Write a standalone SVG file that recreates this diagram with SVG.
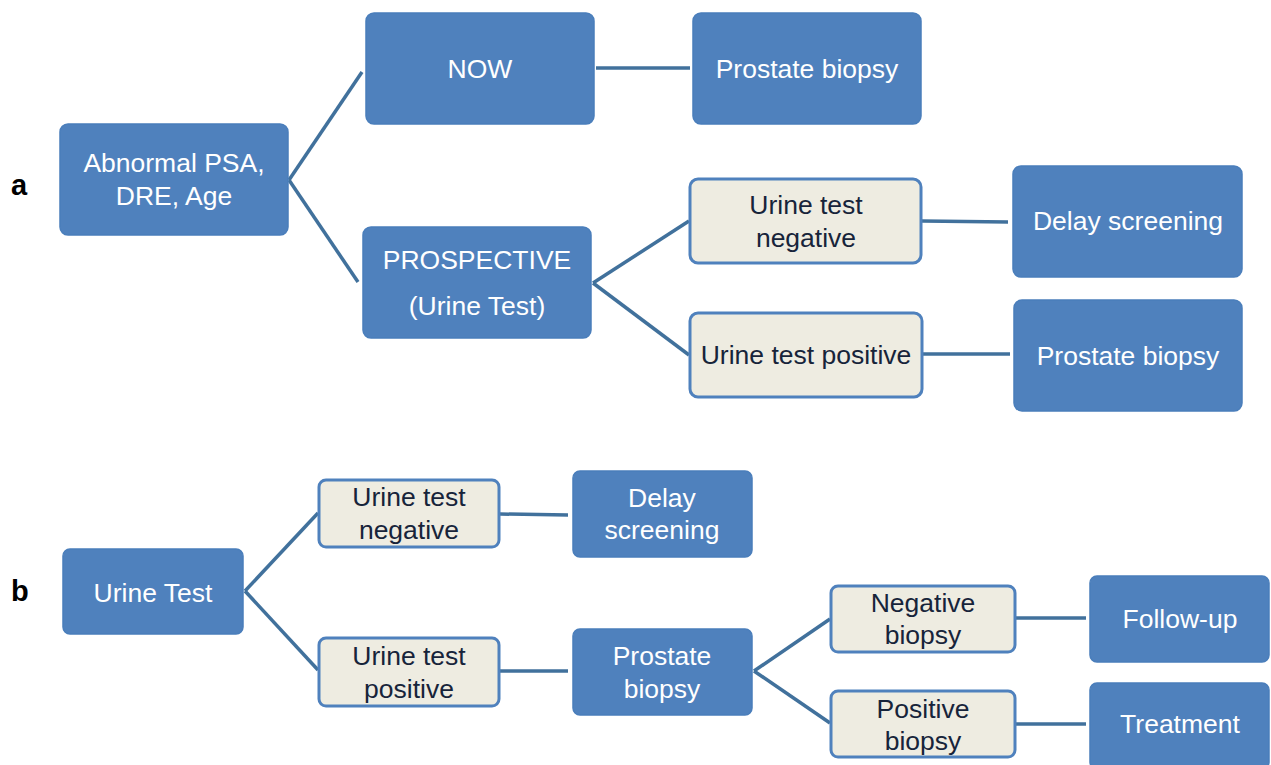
<svg xmlns="http://www.w3.org/2000/svg" width="1271" height="765" viewBox="0 0 1271 765">
<style>
.b{fill:#4F81BD;stroke:#4A7EBB;stroke-width:1.5}
.l{fill:#EEECE1;stroke:#4F81BD;stroke-width:3}
.tw{fill:#FFFFFF;font-family:"Liberation Sans",Arial,sans-serif;font-size:26.5px;text-anchor:middle}
.td{fill:#17243A;font-family:"Liberation Sans",Arial,sans-serif;font-size:26.5px;text-anchor:middle}
.lab{fill:#000;font-family:"Liberation Sans",Arial,sans-serif;font-size:29px;font-weight:bold}
#connectors line{stroke:#41719C;stroke-width:3.5;fill:none}
</style>
<rect width="1271" height="765" fill="#FFFFFF"/>
<text class="lab" x="11" y="195">a</text>
<text class="lab" x="11" y="601">b</text>
<g id="connectors">
<line x1="289" y1="180" x2="362" y2="72"/>
<line x1="289" y1="180" x2="358" y2="282"/>
<line x1="596" y1="68" x2="690" y2="68"/>
<line x1="593" y1="283" x2="689" y2="221"/>
<line x1="593" y1="283" x2="689" y2="355"/>
<line x1="922" y1="221" x2="1008" y2="222"/>
<line x1="923" y1="354" x2="1010" y2="354"/>
<line x1="245" y1="591" x2="318" y2="513"/>
<line x1="245" y1="591" x2="318" y2="670"/>
<line x1="500" y1="514" x2="568" y2="515"/>
<line x1="500" y1="671" x2="568" y2="671"/>
<line x1="754" y1="671" x2="830" y2="619"/>
<line x1="754" y1="671" x2="830" y2="723"/>
<line x1="1016" y1="618" x2="1086" y2="618"/>
<line x1="1016" y1="724" x2="1086" y2="724"/>
</g>
<g id="abnormal"><rect class="b" x="60" y="124" width="228" height="111" rx="8"/><text class="tw" x="174" y="172">Abnormal PSA,</text><text class="tw" x="174" y="205">DRE, Age</text></g>
<g id="now"><rect class="b" x="366" y="13" width="228" height="111" rx="8"/><text class="tw" x="480" y="78">NOW</text></g>
<g id="biopsy-a1"><rect class="b" x="693" y="13" width="228" height="111" rx="8"/><text class="tw" x="807" y="78">Prostate biopsy</text></g>
<g id="prospective"><rect class="b" x="363" y="227" width="228" height="111" rx="8"/><text class="tw" x="477" y="269">PROSPECTIVE</text><text class="tw" x="477" y="315">(Urine Test)</text></g>
<g id="neg-a"><rect class="l" x="690" y="179" width="231" height="84" rx="8"/><text class="td" x="806" y="214">Urine test</text><text class="td" x="806" y="247">negative</text></g>
<g id="pos-a"><rect class="l" x="690" y="313" width="232" height="84" rx="8"/><text class="td" x="806" y="364">Urine test positive</text></g>
<g id="delay-a"><rect class="b" x="1013" y="166" width="229" height="111" rx="8"/><text class="tw" x="1128" y="230">Delay screening</text></g>
<g id="biopsy-a2"><rect class="b" x="1014" y="300" width="228" height="111" rx="8"/><text class="tw" x="1128" y="365">Prostate biopsy</text></g>
<g id="urine-b"><rect class="b" x="63" y="549" width="180" height="85" rx="7"/><text class="tw" x="153" y="602">Urine Test</text></g>
<g id="neg-b"><rect class="l" x="319" y="480" width="180" height="67" rx="7"/><text class="td" x="409" y="506">Urine test</text><text class="td" x="409" y="539">negative</text></g>
<g id="pos-b"><rect class="l" x="319" y="638" width="180" height="68" rx="7"/><text class="td" x="409" y="665">Urine test</text><text class="td" x="409" y="698">positive</text></g>
<g id="delay-b"><rect class="b" x="573" y="471" width="179" height="86" rx="7"/><text class="tw" x="662" y="507">Delay</text><text class="tw" x="662" y="539">screening</text></g>
<g id="biopsy-b"><rect class="b" x="573" y="629" width="179" height="86" rx="7"/><text class="tw" x="662" y="665">Prostate</text><text class="tw" x="662" y="698">biopsy</text></g>
<g id="negbiopsy"><rect class="l" x="831" y="586" width="184" height="66" rx="7"/><text class="td" x="923" y="612">Negative</text><text class="td" x="923" y="644">biopsy</text></g>
<g id="posbiopsy"><rect class="l" x="831" y="691" width="184" height="66" rx="7"/><text class="td" x="923" y="718">Positive</text><text class="td" x="923" y="750">biopsy</text></g>
<g id="followup"><rect class="b" x="1090" y="576" width="179" height="86" rx="7"/><text class="tw" x="1180" y="628">Follow-up</text></g>
<g id="treatment"><rect class="b" x="1090" y="683" width="179" height="86" rx="7"/><text class="tw" x="1180" y="733">Treatment</text></g>
</svg>
